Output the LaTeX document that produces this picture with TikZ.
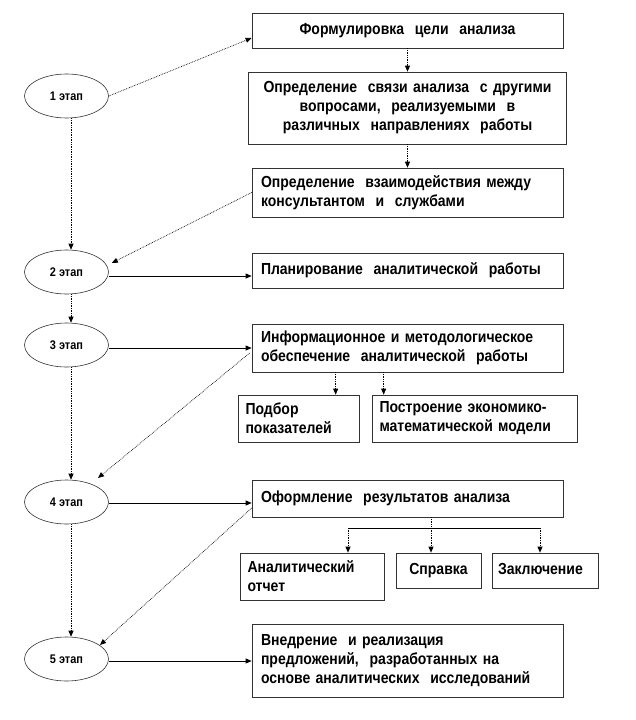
\documentclass[tikz,border=0pt]{standalone}
\usepackage{fontspec}
\setmainfont{Liberation Sans}
\newfontfamily\boxfont{Liberation Sans}[FakeStretch=0.875]
\usetikzlibrary{shapes.geometric,arrows.meta,calc}
\tikzset{
  box/.style={draw=black!80, line width=0.7pt, rectangle, inner xsep=9pt, inner ysep=2pt,
    font=\boxfont\fontsize{16}{19}\selectfont\bfseries, anchor=center},
  stage/.style={draw=black!80, line width=0.6pt, ellipse, minimum width=84pt, minimum height=44pt,
    inner sep=0pt, font=\boxfont\fontsize{12.5}{14}\selectfont\bfseries},
  darrow/.style={densely dotted, line width=0.7pt, -{Triangle[length=6pt,width=5pt]}},
  sarrow/.style={line width=0.7pt, -{Triangle[length=6pt,width=5pt]}},
  dline/.style={densely dotted, line width=0.7pt},
  sline/.style={line width=0.7pt}
}
\begin{document}
\begin{tikzpicture}[x=1pt,y=-1pt]
\useasboundingbox (0,0) rectangle (636,720);
% stages
\node[stage] (e1) at (66.5,96) {1 этап};
\node[stage] (e2) at (66.5,272) {2 этап};
\node[stage] (e3) at (66.5,345) {3 этап};
\node[stage] (e4) at (66.5,502) {4 этап};
\node[stage] (e5) at (66.5,659) {5 этап};
% boxes
\node[box, minimum width=311pt, minimum height=35pt, text width=293pt, align=center] (b1) at (407.5,30.5) {Формулировка\ \ цели\ \ анализа};
\node[box, minimum width=311pt, minimum height=72pt, text width=300pt, align=center] (b2) at (407.5,108) {Определение\ \ связи анализа\ \ с другими\\ вопросами,\ \ реализуемыми\ \ в\\ различных\ \ направлениях\ \ работы};
\node[box, minimum width=311pt, minimum height=49pt, text width=293pt, align=left] (b3) at (407.5,192.5) {Определение\ \ взаимодействия между\\ консультантом\ \ и\ \ службами};
\node[box, minimum width=311pt, minimum height=35pt, text width=293pt, align=left] (b4) at (407.5,270.5) {Планирование\ \ аналитической\ \ работы};
\node[box, minimum width=311pt, minimum height=48pt, text width=293pt, align=left] (b5) at (407.5,348) {Информационное и методологическое\\ обеспечение\ \ аналитической\ \ работы};
\node[box, minimum width=121pt, minimum height=47pt, text width=106pt, align=left, inner xsep=7pt] (b5a) at (298.5,418.5) {Подбор\\ показателей};
\node[box, minimum width=205pt, minimum height=47pt, text width=190pt, align=left, inner xsep=7pt] (b5b) at (474.5,418.5) {Построение экономико-\\математической модели};
\node[box, minimum width=311pt, minimum height=37pt, text width=293pt, align=left] (b6) at (407.5,498.5) {Оформление\ \ результатов анализа};
\node[box, minimum width=144pt, minimum height=47pt, text width=129pt, align=left, inner xsep=7pt] (b6a) at (312,576.5) {Аналитический\\ отчет};
\node[box, minimum width=85pt, minimum height=35pt, text width=73pt, align=center, inner xsep=6pt] (b6b) at (438.5,570.5) {\strut Справка};
\node[box, minimum width=106pt, minimum height=35pt, text width=94pt, align=left, inner xsep=6pt] (b6c) at (545,570.5) {\strut Заключение};
\node[box, minimum width=311pt, minimum height=73pt, text width=293pt, align=left] (b7) at (407.5,660.5) {Внедрение\ \ и реализация\\ предложений,\ \ разработанных на\\ основе аналитических\ \ исследований};
% stage 1 connectors
\draw[darrow] (e1.east) -- ($(b1.west)+(0,7.5)$);
\draw[darrow] (b1.south) -- (b2.north);
\draw[darrow] (b2.south) -- (b3.north);
\draw[darrow] ($(e1.south)+(4.5,0)$) -- ($(e2.north)+(4.5,0)$);
\draw[darrow] (b3.west) -- ($(e2.east)+(3,-9)$);
% stage 2
\draw[sarrow] ($(e2.east)+(0,4)$) -- ($(b4.west)+(0,5.5)$);
\draw[darrow] ($(e2.south)+(4.5,0)$) -- ($(e3.north)+(4.5,0)$);
% stage 3
\draw[sarrow] ($(e3.east)+(0,3)$) -- (b5.west);
\draw[darrow] ($(b5.south west)+(84,0)$) -- ($(b5a.north west)+(98,0)$);
\draw[darrow] ($(b5.south west)+(132,0)$) -- ($(b5b.north west)+(12,0)$);
\draw[darrow] ($(b5.west)+(-2,5)$) -- ($(e4.center)+(31.5,-24)$);
\draw[darrow] ($(e3.south)+(4.5,0)$) -- ($(e4.north)+(4.5,0)$);
% stage 4
\draw[sarrow] ($(e4.east)+(0,1)$) -- ($(b6.west)+(0,4.5)$);
\coordinate (bj) at (431,528);
\coordinate (bl) at (348,528);
\coordinate (br) at (540,528);
\draw[dline] (b6.south -| bj) -- (bj);
\draw[sline] (bl) -- (br);
\draw[darrow] (bl) -- (bl |- b6a.north);
\draw[darrow] (bj) -- (bj |- b6b.north);
\draw[darrow] (br) -- (br |- b6c.north);
\draw[darrow] ($(b6.west)+(0,9.5)$) -- ($(e5.center)+(33.5,-14)$);
\draw[darrow] ($(e4.south)+(4.5,0)$) -- ($(e5.north)+(4.5,0)$);
% stage 5
\draw[sarrow] ($(e5.east)+(0,2)$) -- ($(b7.west)+(0,0.5)$);
\end{tikzpicture}
\end{document}
